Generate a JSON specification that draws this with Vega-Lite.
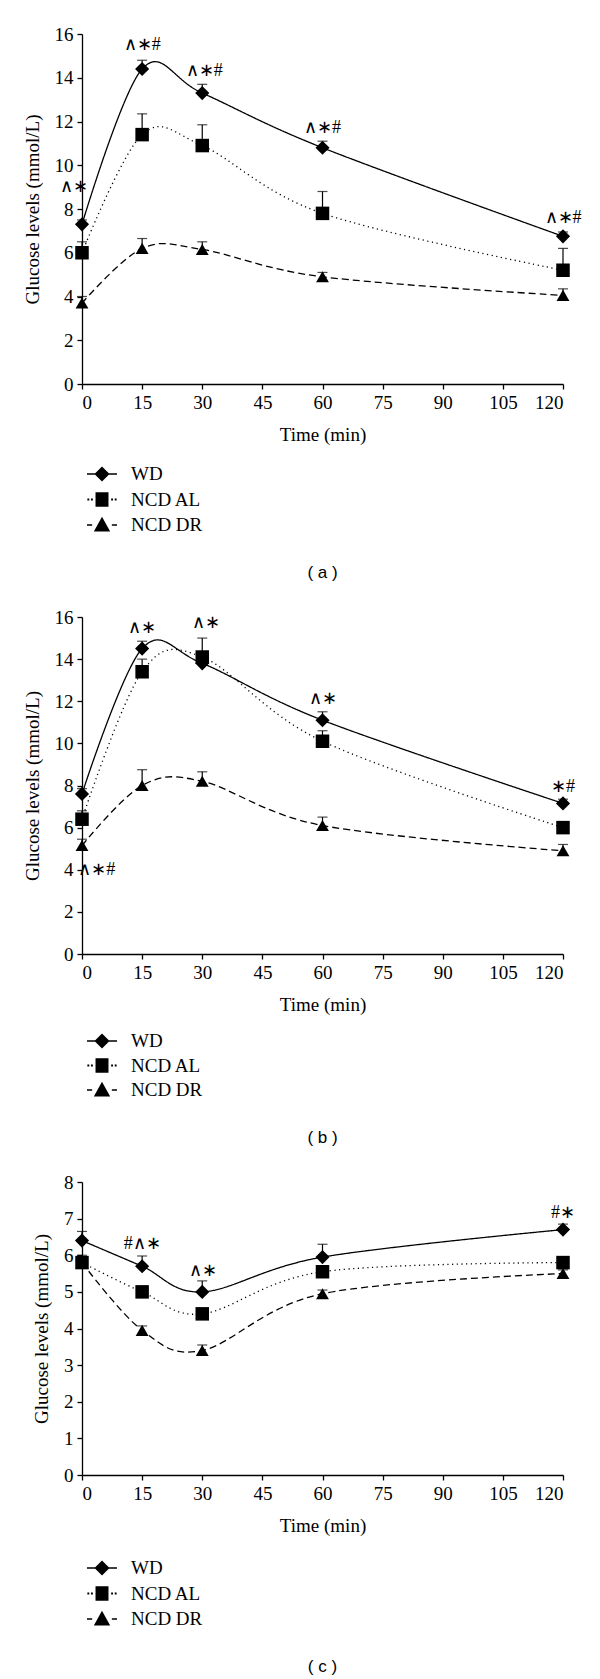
{
  "$schema": "https://vega.github.io/schema/vega-lite/v6.json",
  "padding": {"left": 23, "top": 25, "right": 5, "bottom": 2},
  "spacing": 27,
  "datasets": {
    "glucose": [
      {"panel": "a", "group": "WD", "time": 0, "value": 7.3, "hi": 7.5},
      {"panel": "a", "group": "WD", "time": 15, "value": 14.4, "hi": 14.8},
      {"panel": "a", "group": "WD", "time": 30, "value": 13.3, "hi": 13.7},
      {"panel": "a", "group": "WD", "time": 60, "value": 10.8, "hi": 11.1},
      {"panel": "a", "group": "WD", "time": 120, "value": 6.75, "hi": 6.95},
      {"panel": "a", "group": "NCD AL", "time": 0, "value": 6.0, "hi": 6.5},
      {"panel": "a", "group": "NCD AL", "time": 15, "value": 11.4, "hi": 12.35},
      {"panel": "a", "group": "NCD AL", "time": 30, "value": 10.9, "hi": 11.85},
      {"panel": "a", "group": "NCD AL", "time": 60, "value": 7.8, "hi": 8.8},
      {"panel": "a", "group": "NCD AL", "time": 120, "value": 5.2, "hi": 6.2},
      {"panel": "a", "group": "NCD DR", "time": 0, "value": 3.7, "hi": 4.0},
      {"panel": "a", "group": "NCD DR", "time": 15, "value": 6.2, "hi": 6.65},
      {"panel": "a", "group": "NCD DR", "time": 30, "value": 6.15, "hi": 6.5},
      {"panel": "a", "group": "NCD DR", "time": 60, "value": 4.9, "hi": 5.1},
      {"panel": "a", "group": "NCD DR", "time": 120, "value": 4.05, "hi": 4.35},
      {"panel": "b", "group": "WD", "time": 0, "value": 7.6, "hi": 7.85},
      {"panel": "b", "group": "WD", "time": 15, "value": 14.5, "hi": 14.85},
      {"panel": "b", "group": "WD", "time": 30, "value": 13.8, "hi": 14.1},
      {"panel": "b", "group": "WD", "time": 60, "value": 11.1, "hi": 11.5},
      {"panel": "b", "group": "WD", "time": 120, "value": 7.15, "hi": 7.35},
      {"panel": "b", "group": "NCD AL", "time": 0, "value": 6.4, "hi": 6.8},
      {"panel": "b", "group": "NCD AL", "time": 15, "value": 13.4, "hi": 14.0},
      {"panel": "b", "group": "NCD AL", "time": 30, "value": 14.1, "hi": 15.0},
      {"panel": "b", "group": "NCD AL", "time": 60, "value": 10.1, "hi": 10.6},
      {"panel": "b", "group": "NCD AL", "time": 120, "value": 6.0, "hi": 6.2},
      {"panel": "b", "group": "NCD DR", "time": 0, "value": 5.15, "hi": 5.45},
      {"panel": "b", "group": "NCD DR", "time": 15, "value": 8.0, "hi": 8.75},
      {"panel": "b", "group": "NCD DR", "time": 30, "value": 8.2, "hi": 8.65},
      {"panel": "b", "group": "NCD DR", "time": 60, "value": 6.1, "hi": 6.5},
      {"panel": "b", "group": "NCD DR", "time": 120, "value": 4.9, "hi": 5.2},
      {"panel": "c", "group": "WD", "time": 0, "value": 6.4, "hi": 6.65},
      {"panel": "c", "group": "WD", "time": 15, "value": 5.7, "hi": 5.98},
      {"panel": "c", "group": "WD", "time": 30, "value": 5.0, "hi": 5.3},
      {"panel": "c", "group": "WD", "time": 60, "value": 5.95, "hi": 6.3},
      {"panel": "c", "group": "WD", "time": 120, "value": 6.7, "hi": 6.85},
      {"panel": "c", "group": "NCD AL", "time": 0, "value": 5.8, "hi": 6.0},
      {"panel": "c", "group": "NCD AL", "time": 15, "value": 5.0, "hi": 5.1},
      {"panel": "c", "group": "NCD AL", "time": 30, "value": 4.4, "hi": 4.5},
      {"panel": "c", "group": "NCD AL", "time": 60, "value": 5.55, "hi": 5.7},
      {"panel": "c", "group": "NCD AL", "time": 120, "value": 5.8, "hi": 5.9},
      {"panel": "c", "group": "NCD DR", "time": 0, "value": 5.8, "hi": 5.9},
      {"panel": "c", "group": "NCD DR", "time": 15, "value": 3.95, "hi": 4.07},
      {"panel": "c", "group": "NCD DR", "time": 30, "value": 3.4, "hi": 3.55},
      {"panel": "c", "group": "NCD DR", "time": 60, "value": 4.95, "hi": 5.05},
      {"panel": "c", "group": "NCD DR", "time": 120, "value": 5.5, "hi": 5.6}
    ],
    "sig": [
      {"panel": "a", "time": -2.0, "value": 9.0, "text": "∧∗"},
      {"panel": "a", "time": 15, "value": 15.5, "text": "∧∗#"},
      {"panel": "a", "time": 30.5, "value": 14.3, "text": "∧∗#"},
      {"panel": "a", "time": 60, "value": 11.7, "text": "∧∗#"},
      {"panel": "a", "time": 120, "value": 7.6, "text": "∧∗#"},
      {"panel": "b", "time": 3.7, "value": 4.0, "text": "∧∗#"},
      {"panel": "b", "time": 15, "value": 15.5, "text": "∧∗"},
      {"panel": "b", "time": 31, "value": 15.7, "text": "∧∗"},
      {"panel": "b", "time": 60, "value": 12.1, "text": "∧∗"},
      {"panel": "b", "time": 120, "value": 7.95, "text": "∗#"},
      {"panel": "c", "time": 15, "value": 6.3, "text": "#∧∗"},
      {"panel": "c", "time": 30.3, "value": 5.58, "text": "∧∗"},
      {"panel": "c", "time": 120, "value": 7.14, "text": "#∗"}
    ]
  },
  "vconcat": [
    {
      "width": 481, "height": 350,
      "title": {"text": "( a )", "orient": "bottom", "anchor": "middle", "frame": "group", "font": "Liberation Sans", "fontSize": 17, "fontWeight": "normal", "color": "black", "offset": 22},
      "encoding": {
        "x": {"field": "time", "type": "quantitative", "scale": {"domain": [0, 120]}, "axis": {"values": [0, 15, 30, 45, 60, 75, 90, 105, 120], "title": "Time (min)"}},
        "y": {"field": "value", "type": "quantitative", "scale": {"domain": [0, 16]}, "axis": {"values": [0, 2, 4, 6, 8, 10, 12, 14, 16], "title": "Glucose levels (mmol/L)"}}
      },
      "layer": [
        {"data": {"name": "glucose"}, "transform": [{"filter": "datum.panel === 'a'"}],
         "mark": {"type": "line", "interpolate": "cardinal", "color": "black", "strokeWidth": 1.3},
         "encoding": {"strokeDash": {"field": "group", "type": "nominal", "scale": {"domain": ["WD", "NCD AL", "NCD DR"], "range": [[1, 0], [1.2, 3.5], [7, 4]]}, "legend": null}}},
        {"data": {"name": "glucose"}, "transform": [{"filter": "datum.panel === 'a'"}],
         "mark": {"type": "rule", "color": "black", "strokeWidth": 1.2},
         "encoding": {"y2": {"field": "hi"}}},
        {"data": {"name": "glucose"}, "transform": [{"filter": "datum.panel === 'a'"}],
         "mark": {"type": "tick", "orient": "horizontal", "color": "black", "size": 10, "thickness": 1.2},
         "encoding": {"y": {"field": "hi", "type": "quantitative", "scale": {"domain": [0, 16]}, "axis": {"values": [0, 2, 4, 6, 8, 10, 12, 14, 16], "title": "Glucose levels (mmol/L)"}}}},
        {"data": {"name": "glucose"}, "transform": [{"filter": "datum.panel === 'a'"}],
         "mark": {"type": "point", "filled": true, "color": "black", "opacity": 1},
         "encoding": {
           "shape": {"field": "group", "type": "nominal", "scale": {"domain": ["WD", "NCD AL", "NCD DR"], "range": ["diamond", "square", "triangle-up"]}, "legend": null},
           "size": {"field": "group", "type": "nominal", "scale": {"domain": ["WD", "NCD AL", "NCD DR"], "range": [200, 165, 270]}, "legend": null}}},
        {"data": {"name": "glucose"}, "transform": [{"filter": "datum.panel === 'a'"}],
         "mark": {"type": "point", "filled": true, "color": "black", "opacity": 0},
         "encoding": {
           "shape": {"field": "group", "type": "nominal", "title": null,
             "scale": {"domain": ["WD", "NCD AL", "NCD DR"], "range": [
               "M-1.25,-0.065H-0.55V0.065H-1.25Z M0.55,-0.065H1.25V0.065H0.55Z M-0.63,0L0,-0.63L0.63,0L0,0.63Z",
               "M-1.22,-0.08h0.16v0.16h-0.16Z M-0.92,-0.08h0.16v0.16h-0.16Z M0.76,-0.08h0.16v0.16h-0.16Z M1.06,-0.08h0.16v0.16h-0.16Z M-0.54,-0.6H0.54V0.6H-0.54Z",
               "M-1.25,-0.065H-0.82V0.065H-1.25Z M0.82,-0.065H1.25V0.065H0.82Z M-0.68,0.55L0,-0.68L0.68,0.55Z"]},
             "legend": {"orient": "bottom", "direction": "vertical", "padding": 8, "symbolSize": 576, "symbolFillColor": "black", "symbolStrokeWidth": 0, "symbolOpacity": 1, "labelFont": "Liberation Serif", "labelFontSize": 19, "labelColor": "black", "rowPadding": 3.5, "labelOffset": 17, "offset": 10,
               "encode": {"symbols": {"update": {"opacity": {"value": 1}, "fill": {"value": "black"}, "strokeWidth": {"value": 0}}}}}}}},
        {"data": {"name": "sig"}, "transform": [{"filter": "datum.panel === 'a'"}],
         "mark": {"type": "text", "font": "Liberation Serif", "fontSize": 18, "color": "black", "align": "center", "baseline": "middle"},
         "encoding": {"text": {"field": "text"}}}
      ],
      "resolve": {"scale": {"shape": "independent"}}
    },
    {
      "width": 481, "height": 337,
      "title": {"text": "( b )", "orient": "bottom", "anchor": "middle", "frame": "group", "font": "Liberation Sans", "fontSize": 17, "fontWeight": "normal", "color": "black", "offset": 22},
      "encoding": {
        "x": {"field": "time", "type": "quantitative", "scale": {"domain": [0, 120]}, "axis": {"values": [0, 15, 30, 45, 60, 75, 90, 105, 120], "title": "Time (min)"}},
        "y": {"field": "value", "type": "quantitative", "scale": {"domain": [0, 16]}, "axis": {"values": [0, 2, 4, 6, 8, 10, 12, 14, 16], "title": "Glucose levels (mmol/L)"}}
      },
      "layer": [
        {"data": {"name": "glucose"}, "transform": [{"filter": "datum.panel === 'b'"}],
         "mark": {"type": "line", "interpolate": "cardinal", "color": "black", "strokeWidth": 1.3},
         "encoding": {"strokeDash": {"field": "group", "type": "nominal", "scale": {"domain": ["WD", "NCD AL", "NCD DR"], "range": [[1, 0], [1.2, 3.5], [7, 4]]}, "legend": null}}},
        {"data": {"name": "glucose"}, "transform": [{"filter": "datum.panel === 'b'"}],
         "mark": {"type": "rule", "color": "black", "strokeWidth": 1.2},
         "encoding": {"y2": {"field": "hi"}}},
        {"data": {"name": "glucose"}, "transform": [{"filter": "datum.panel === 'b'"}],
         "mark": {"type": "tick", "orient": "horizontal", "color": "black", "size": 10, "thickness": 1.2},
         "encoding": {"y": {"field": "hi", "type": "quantitative", "scale": {"domain": [0, 16]}, "axis": {"values": [0, 2, 4, 6, 8, 10, 12, 14, 16], "title": "Glucose levels (mmol/L)"}}}},
        {"data": {"name": "glucose"}, "transform": [{"filter": "datum.panel === 'b'"}],
         "mark": {"type": "point", "filled": true, "color": "black", "opacity": 1},
         "encoding": {
           "shape": {"field": "group", "type": "nominal", "scale": {"domain": ["WD", "NCD AL", "NCD DR"], "range": ["diamond", "square", "triangle-up"]}, "legend": null},
           "size": {"field": "group", "type": "nominal", "scale": {"domain": ["WD", "NCD AL", "NCD DR"], "range": [200, 165, 270]}, "legend": null}}},
        {"data": {"name": "glucose"}, "transform": [{"filter": "datum.panel === 'b'"}],
         "mark": {"type": "point", "filled": true, "color": "black", "opacity": 0},
         "encoding": {
           "shape": {"field": "group", "type": "nominal", "title": null,
             "scale": {"domain": ["WD", "NCD AL", "NCD DR"], "range": [
               "M-1.25,-0.065H-0.55V0.065H-1.25Z M0.55,-0.065H1.25V0.065H0.55Z M-0.63,0L0,-0.63L0.63,0L0,0.63Z",
               "M-1.22,-0.08h0.16v0.16h-0.16Z M-0.92,-0.08h0.16v0.16h-0.16Z M0.76,-0.08h0.16v0.16h-0.16Z M1.06,-0.08h0.16v0.16h-0.16Z M-0.54,-0.6H0.54V0.6H-0.54Z",
               "M-1.25,-0.065H-0.82V0.065H-1.25Z M0.82,-0.065H1.25V0.065H0.82Z M-0.68,0.55L0,-0.68L0.68,0.55Z"]},
             "legend": {"orient": "bottom", "direction": "vertical", "padding": 8, "symbolSize": 576, "symbolFillColor": "black", "symbolStrokeWidth": 0, "symbolOpacity": 1, "labelFont": "Liberation Serif", "labelFontSize": 19, "labelColor": "black", "rowPadding": 2.5, "labelOffset": 17, "offset": 7,
               "encode": {"symbols": {"update": {"opacity": {"value": 1}, "fill": {"value": "black"}, "strokeWidth": {"value": 0}}}}}}}},
        {"data": {"name": "sig"}, "transform": [{"filter": "datum.panel === 'b'"}],
         "mark": {"type": "text", "font": "Liberation Serif", "fontSize": 18, "color": "black", "align": "center", "baseline": "middle"},
         "encoding": {"text": {"field": "text"}}}
      ],
      "resolve": {"scale": {"shape": "independent"}}
    },
    {
      "width": 481, "height": 293,
      "title": {"text": "( c )", "orient": "bottom", "anchor": "middle", "frame": "group", "font": "Liberation Sans", "fontSize": 17, "fontWeight": "normal", "color": "black", "offset": 22},
      "encoding": {
        "x": {"field": "time", "type": "quantitative", "scale": {"domain": [0, 120]}, "axis": {"values": [0, 15, 30, 45, 60, 75, 90, 105, 120], "title": "Time (min)"}},
        "y": {"field": "value", "type": "quantitative", "scale": {"domain": [0, 8]}, "axis": {"values": [0, 1, 2, 3, 4, 5, 6, 7, 8], "title": "Glucose levels (mmol/L)"}}
      },
      "layer": [
        {"data": {"name": "glucose"}, "transform": [{"filter": "datum.panel === 'c'"}],
         "mark": {"type": "line", "interpolate": "cardinal", "color": "black", "strokeWidth": 1.3},
         "encoding": {"strokeDash": {"field": "group", "type": "nominal", "scale": {"domain": ["WD", "NCD AL", "NCD DR"], "range": [[1, 0], [1.2, 3.5], [7, 4]]}, "legend": null}}},
        {"data": {"name": "glucose"}, "transform": [{"filter": "datum.panel === 'c'"}],
         "mark": {"type": "rule", "color": "black", "strokeWidth": 1.2},
         "encoding": {"y2": {"field": "hi"}}},
        {"data": {"name": "glucose"}, "transform": [{"filter": "datum.panel === 'c'"}],
         "mark": {"type": "tick", "orient": "horizontal", "color": "black", "size": 10, "thickness": 1.2},
         "encoding": {"y": {"field": "hi", "type": "quantitative", "scale": {"domain": [0, 8]}, "axis": {"values": [0, 1, 2, 3, 4, 5, 6, 7, 8], "title": "Glucose levels (mmol/L)"}}}},
        {"data": {"name": "glucose"}, "transform": [{"filter": "datum.panel === 'c'"}],
         "mark": {"type": "point", "filled": true, "color": "black", "opacity": 1},
         "encoding": {
           "shape": {"field": "group", "type": "nominal", "scale": {"domain": ["WD", "NCD AL", "NCD DR"], "range": ["diamond", "square", "triangle-up"]}, "legend": null},
           "size": {"field": "group", "type": "nominal", "scale": {"domain": ["WD", "NCD AL", "NCD DR"], "range": [200, 165, 270]}, "legend": null}}},
        {"data": {"name": "glucose"}, "transform": [{"filter": "datum.panel === 'c'"}],
         "mark": {"type": "point", "filled": true, "color": "black", "opacity": 0},
         "encoding": {
           "shape": {"field": "group", "type": "nominal", "title": null,
             "scale": {"domain": ["WD", "NCD AL", "NCD DR"], "range": [
               "M-1.25,-0.065H-0.55V0.065H-1.25Z M0.55,-0.065H1.25V0.065H0.55Z M-0.63,0L0,-0.63L0.63,0L0,0.63Z",
               "M-1.22,-0.08h0.16v0.16h-0.16Z M-0.92,-0.08h0.16v0.16h-0.16Z M0.76,-0.08h0.16v0.16h-0.16Z M1.06,-0.08h0.16v0.16h-0.16Z M-0.54,-0.6H0.54V0.6H-0.54Z",
               "M-1.25,-0.065H-0.82V0.065H-1.25Z M0.82,-0.065H1.25V0.065H0.82Z M-0.68,0.55L0,-0.68L0.68,0.55Z"]},
             "legend": {"orient": "bottom", "direction": "vertical", "padding": 8, "symbolSize": 576, "symbolFillColor": "black", "symbolStrokeWidth": 0, "symbolOpacity": 1, "labelFont": "Liberation Serif", "labelFontSize": 19, "labelColor": "black", "rowPadding": 3.5, "labelOffset": 17, "offset": 13,
               "encode": {"symbols": {"update": {"opacity": {"value": 1}, "fill": {"value": "black"}, "strokeWidth": {"value": 0}}}}}}}},
        {"data": {"name": "sig"}, "transform": [{"filter": "datum.panel === 'c'"}],
         "mark": {"type": "text", "font": "Liberation Serif", "fontSize": 18, "color": "black", "align": "center", "baseline": "middle"},
         "encoding": {"text": {"field": "text"}}}
      ],
      "resolve": {"scale": {"shape": "independent"}}
    }
  ],
  "config": {
    "view": {"stroke": null},
    "axis": {"domainColor": "black", "tickColor": "black", "labelColor": "black", "titleColor": "black", "labelFont": "Liberation Serif", "titleFont": "Liberation Serif", "labelFontSize": 19, "titleFontSize": 19, "titleFontWeight": "normal", "grid": false, "tickSize": 5, "domainWidth": 1.3, "tickWidth": 1.3, "labelPadding": 4},
    "axisY": {"titlePadding": 12},
    "axisX": {"titlePadding": 13}
  }
}
